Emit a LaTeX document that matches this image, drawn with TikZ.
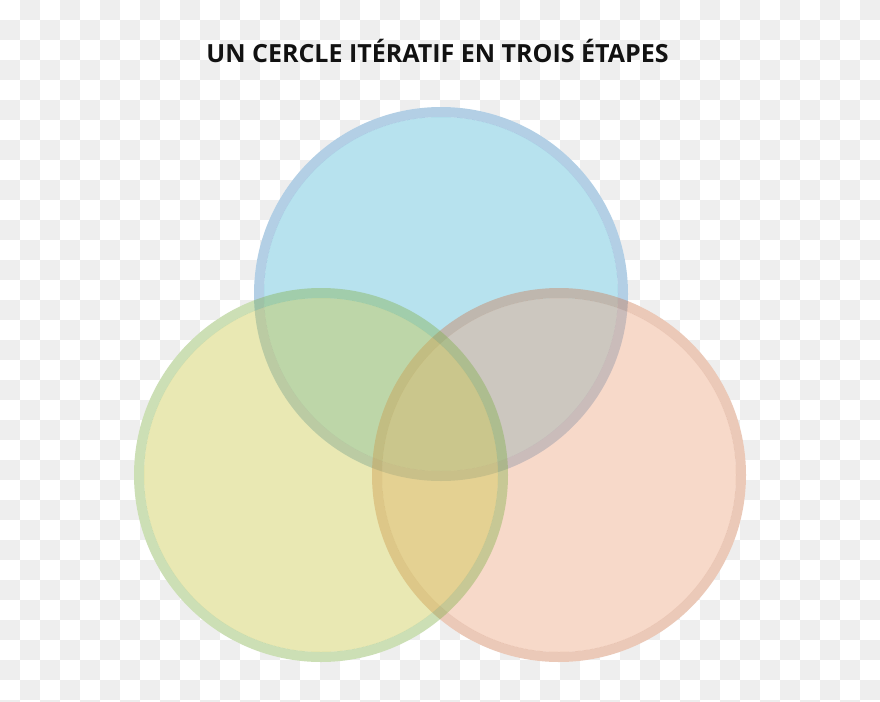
\documentclass[tikz,border=0pt]{standalone}
\usepackage{fontspec}
\setmainfont{Open Sans}
\usepackage{xcolor}

\definecolor{damier}{HTML}{EEEEEE}
\definecolor{bleufond}{RGB}{75,183,213}
\definecolor{bleutrait}{RGB}{65,137,192}
\definecolor{jaunefond}{RGB}{200,198,65}
\definecolor{jaunetrait}{RGB}{128,175,72}
\definecolor{orangefond}{RGB}{237,160,122}
\definecolor{orangetrait}{RGB}{205,120,78}

\begin{document}
\begin{tikzpicture}[x=1pt,y=-1pt,
    titre/.style={anchor=base,font=\fontsize{25}{30}\selectfont\bfseries,text=black!93},
    disque/.style={fill opacity=0.4},
    anneau/.style={line width=10pt,draw opacity=0.4}]
    \useasboundingbox (0,0) rectangle (880,701);
    \clip (0,0) rectangle (880,701);

    % fond en damier
    \fill[white] (0,0) rectangle (880,701);
    \foreach \j [evaluate=\j as \s using {int(mod(\j+1,2))}] in {0,...,35}
        \foreach \i in {0,2,...,42}
            \fill[damier] (\i*20+\s*20,\j*20) rectangle +(20,20);

    \coordinate (bleu) at (441,294);
    \coordinate (jaune) at (321,475);
    \coordinate (orange) at (559,475);

    \node[titre] (titre) at (437.5,63) {UN CERCLE ITÉRATIF EN TROIS ÉTAPES};

    % les cercles
    \foreach \coul in {bleu,jaune,orange}
        \fill[white] (\coul) circle (187pt);
    \foreach \coul in {bleu,orange,jaune} {
        \fill[disque,fill=\coul fond] (\coul) circle (177pt);
        \draw[anneau,draw=\coul trait] (\coul) circle (182pt);
    }
\end{tikzpicture}
\end{document}
